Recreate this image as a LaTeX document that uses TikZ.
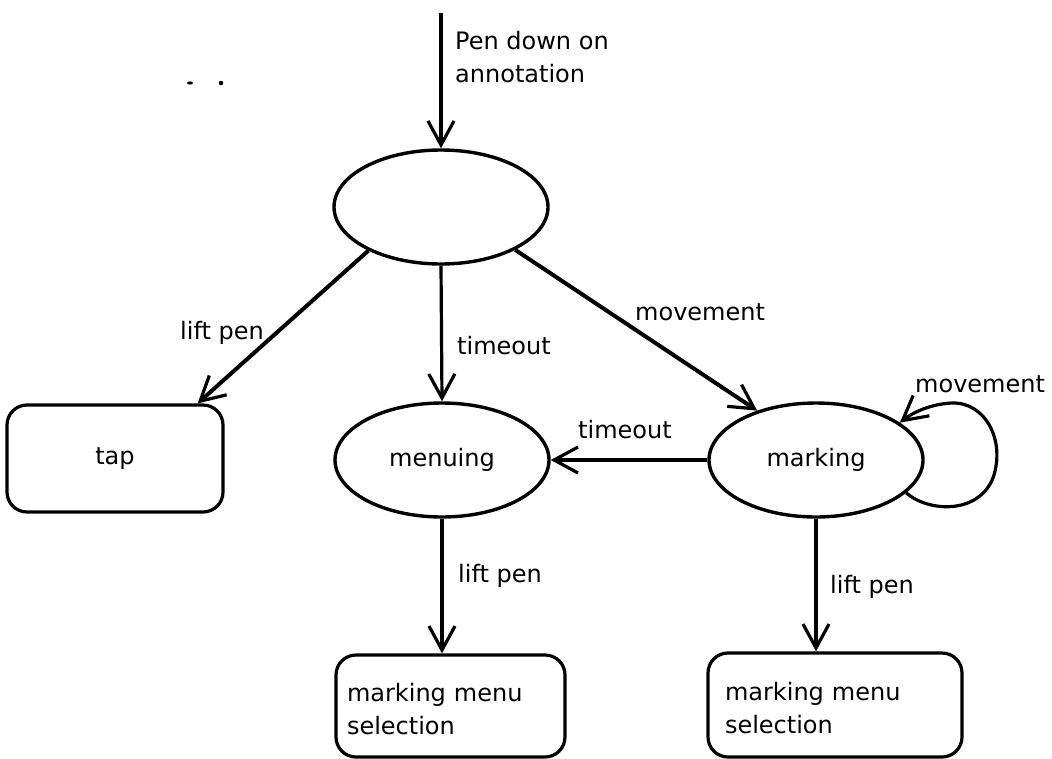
\documentclass[tikz,border=0pt]{standalone}
\usepackage{fontspec}
\setmainfont{DejaVu Sans}
\usetikzlibrary{arrows.meta,shapes.geometric,calc}
\begin{document}
\begin{tikzpicture}[x=1pt,y=-1pt,
  font=\fontsize{24}{33}\selectfont,
  state/.style={draw,ellipse,line width=3.4pt,minimum width=214pt,minimum height=114pt,inner sep=0pt},
  outcome/.style={draw,rectangle,rounded corners=20pt,line width=3.2pt,inner sep=0pt},
  trans/.style={line width=3.2pt,-{Straight Barb[length=24pt,width=26pt,line width=3.2pt]}},
  lbl/.style={inner sep=0pt,anchor=base west}]
\useasboundingbox (0,0) rectangle (1052,758);

% states
\node[state] (press) at (441,207) {};
\node[state] (menu) at (442,460) {menuing};
\node[state] (mark) at (816,460) {marking};

% outcomes
\node[outcome,minimum width=216pt,minimum height=107pt] (tap) at (115,458.5) {tap};
\node[outcome,minimum width=229pt,minimum height=102pt,text width=207pt,align=left] (selA) at (450.5,706) {\rule{0pt}{25pt}marking menu\\selection};
\node[outcome,minimum width=254pt,minimum height=104pt,text width=220pt,align=left] (selB) at (835,705) {\rule{0pt}{25pt}marking menu\\selection};

% entry
\coordinate (entry) at (441,13);
\draw[trans] (entry) -- (press.north);
\node[inner sep=0pt,anchor=north west,align=left] (penlbl) at (455,31) {Pen down on\\annotation};

% transitions out of the initial state
\draw[trans,line width=4pt] (press.211) -- ([xshift=-27pt]tap.north east);
\node[lbl] (l1) at (180,339) {lift pen};
\draw[trans] (press.south) -- (menu.north);
\node[lbl] (l2) at (457,354) {timeout};
\draw[trans,line width=4pt] (press.-30) -- (mark.140);
\node[lbl] (l3) at (635,320) {movement};

% marking to menuing
\draw[trans] (mark.west) -- (menu.east);
\node[lbl] (l4) at (578,438) {timeout};

% self loop on marking
\draw[trans] (mark.-20) .. controls (928,512) and (978,515) .. (993,478)
  .. controls (1006,440) and (985,402) .. (952,403)
  .. controls (930,404) and (912,413) .. (mark.24);
\node[lbl] (l5) at (915,392) {movement};

% lift pen to selections
\draw[trans] (menu.south) -- (menu.south |- selA.north);
\node[lbl] (l6) at (458,582) {lift pen};
\draw[trans] (mark.south) -- (mark.south |- selB.north);
\node[lbl] (l7) at (830,593) {lift pen};

% specks
\fill (190,83) ellipse (3pt and 1.6pt);
\fill (221,83) circle (2.3pt);
\end{tikzpicture}
\end{document}
